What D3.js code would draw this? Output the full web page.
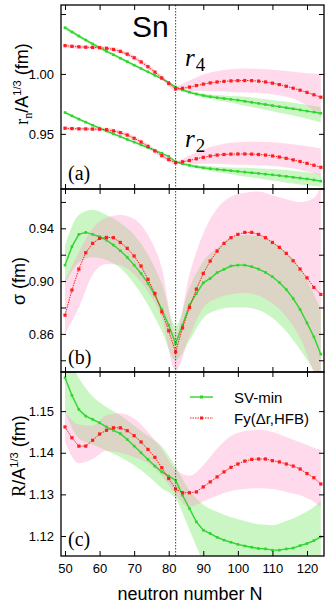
<!DOCTYPE html>
<html>
<head>
<meta charset="utf-8">
<script src="https://cdn.jsdelivr.net/npm/d3@7"></script>
<style>
body { margin: 0; background: #fff; }
text { font-family: "Liberation Sans", Arial, sans-serif; }
</style>
</head>
<body>
<div id="chart"></div>
<script>
// neutron numbers of the computed isotopes
var N = [50,52,54,56,58,60,62,64,66,68,70,72,74,76,78,80,82,84,86,88,90,92,94,96,98,100,102,104,106,108,110,112,114,116,118,120,122,124];
// grid on which the error bands were read
var bandN = [50,54,58,62,66,70,74,78,82,86,90,94,98,102,106,110,114,118,122,124];

// (a) radii r4, r2 over A^1/3
var r4SV = [1.0386,1.0350,1.0316,1.0282,1.0250,1.0219,1.0189,1.0160,1.0131,1.0102,1.0073,1.0045,1.0017,0.9988,0.9960,0.9930,0.9890,
  0.9866,0.9847,0.9832,0.9820,0.9810,0.9802,0.9795,0.9788,0.9781,0.9772,0.9763,0.9754,0.9745,0.9736,0.9727,0.9718,0.9709,0.9700,0.9690,0.9681,0.9672];
var r4Fy = [1.0236,1.0230,1.0226,1.0223,1.0221,1.0219,1.0214,1.0204,1.0188,1.0165,1.0135,1.0100,1.0060,1.0015,0.9967,0.9920,0.9875,
  0.9880,0.9890,0.9903,0.9915,0.9925,0.9933,0.9938,0.9942,0.9944,0.9945,0.9944,0.9940,0.9933,0.9923,0.9911,0.9897,0.9881,0.9864,0.9846,0.9826,0.9806];
var r2SV = [0.9678,0.9650,0.9623,0.9597,0.9572,0.9548,0.9524,0.9500,0.9477,0.9454,0.9431,0.9408,0.9385,0.9362,0.9338,0.9313,0.9267,
  0.9250,0.9237,0.9226,0.9217,0.9210,0.9204,0.9198,0.9192,0.9187,0.9181,0.9175,0.9170,0.9164,0.9158,0.9152,0.9145,0.9138,0.9131,0.9124,0.9115,0.9106];
var r2Fy = [0.9547,0.9544,0.9542,0.9541,0.9540,0.9539,0.9535,0.9525,0.9510,0.9490,0.9463,0.9432,0.9396,0.9357,0.9318,0.9285,0.9260,
  0.9267,0.9278,0.9292,0.9304,0.9315,0.9323,0.9328,0.9331,0.9332,0.9332,0.9331,0.9328,0.9323,0.9316,0.9307,0.9296,0.9283,0.9269,0.9254,0.9238,0.9221];

var r4SVlo = [1.0371,1.0301,1.0236,1.0176,1.0119,1.0062,1.0007,0.9951,0.9880,0.9835,0.9803,0.9780,0.9760,0.9734,0.9712,0.9689,0.9665,0.9640,0.9612,0.9597];
var r4SVhi = [1.0401,1.0331,1.0264,1.0202,1.0143,1.0084,1.0027,0.9969,0.9898,0.9859,0.9837,0.9824,0.9816,0.9810,0.9796,0.9783,0.9768,0.9752,0.9733,0.9725];
var r4Fylo = [1.0221,1.0211,1.0206,1.0198,1.0170,1.0115,1.0040,0.9947,0.9860,0.9855,0.9860,0.9855,0.9850,0.9845,0.9840,0.9830,0.9810,0.9770,0.9690,0.9640];
var r4Fyhi = [1.0251,1.0241,1.0236,1.0230,1.0206,1.0155,1.0080,0.9987,0.9900,0.9945,0.9995,1.0025,1.0040,1.0045,1.0042,1.0035,1.0025,1.0012,1.0002,1.0000];
var r2SVlo = [0.9665,0.9611,0.9561,0.9514,0.9467,0.9421,0.9376,0.9329,0.9258,0.9225,0.9200,0.9182,0.9164,0.9145,0.9128,0.9110,0.9092,0.9078,0.9064,0.9058];
var r2SVhi = [0.9691,0.9635,0.9583,0.9534,0.9487,0.9441,0.9394,0.9347,0.9276,0.9249,0.9234,0.9226,0.9220,0.9217,0.9212,0.9206,0.9198,0.9186,0.9172,0.9165];
var r2Fylo = [0.9532,0.9527,0.9525,0.9519,0.9492,0.9443,0.9376,0.9298,0.9245,0.9245,0.9250,0.9250,0.9245,0.9242,0.9238,0.9232,0.9220,0.9200,0.9170,0.9155];
var r2Fyhi = [0.9562,0.9557,0.9555,0.9551,0.9528,0.9483,0.9416,0.9338,0.9275,0.9320,0.9370,0.9405,0.9425,0.9435,0.9435,0.9430,0.9420,0.9405,0.9388,0.9380];

// (b) surface thickness sigma
var sigSV = [0.9121,0.9261,0.9354,0.9369,0.9354,0.9336,0.9311,0.9273,0.9230,0.9180,0.9121,0.9058,0.8982,0.8894,0.8785,0.8666,0.8527,
  0.8666,0.8818,0.8906,0.8987,0.9020,0.9064,0.9089,0.9114,0.9121,0.9121,0.9109,0.9091,0.9066,0.9033,0.8990,0.8936,0.8868,0.8785,0.8683,0.8577,0.8446];
var sigFy = [0.8742,0.8932,0.9091,0.9215,0.9286,0.9324,0.9331,0.9329,0.9293,0.9248,0.9190,0.9114,0.9013,0.8906,0.8767,0.8623,0.8463,
  0.8646,0.8800,0.8939,0.9058,0.9152,0.9228,0.9286,0.9329,0.9354,0.9369,0.9369,0.9354,0.9329,0.9293,0.9256,0.9210,0.9154,0.9091,0.9025,0.8952,0.8899];
var sigSVlo = [0.898,0.914,0.918,0.916,0.910,0.898,0.882,0.862,0.840,0.855,0.872,0.878,0.880,0.880,0.878,0.872,0.862,0.848,0.832,0.822];
var sigSVhi = [0.927,0.950,0.954,0.950,0.944,0.935,0.920,0.898,0.866,0.895,0.915,0.925,0.933,0.935,0.934,0.930,0.922,0.910,0.890,0.878];
var sigFylo = [0.860,0.880,0.905,0.913,0.912,0.905,0.892,0.872,0.832,0.858,0.880,0.887,0.890,0.891,0.889,0.883,0.873,0.857,0.830,0.815];
var sigFyhi = [0.900,0.922,0.940,0.948,0.950,0.947,0.935,0.910,0.860,0.905,0.936,0.955,0.964,0.967,0.968,0.965,0.962,0.960,0.963,0.972];

// (c) diffraction radius R over A^1/3
var RSV = [1.1580,1.1538,1.1504,1.1488,1.1480,1.1472,1.1462,1.1454,1.1446,1.1432,1.1416,1.1400,1.1384,1.1368,1.1354,1.1344,1.1334,
  1.1298,1.1266,1.1234,1.1214,1.1206,1.1197,1.1190,1.1185,1.1180,1.1176,1.1173,1.1170,1.1169,1.1166,1.1166,1.1169,1.1171,1.1177,1.1182,1.1189,1.1198];
var RFy = [1.1462,1.1436,1.1416,1.1416,1.1430,1.1445,1.1454,1.1460,1.1460,1.1453,1.1441,1.1426,1.1408,1.1389,1.1364,1.1338,1.1313,
  1.1304,1.1304,1.1306,1.1318,1.1330,1.1342,1.1354,1.1365,1.1373,1.1380,1.1384,1.1385,1.1385,1.1381,1.1378,1.1373,1.1368,1.1361,1.1350,1.1340,1.1325];
var RSVlo = [1.1500,1.1435,1.1420,1.1405,1.1390,1.1370,1.1345,1.1315,1.1290,1.1215,1.1140,1.1110,1.1100,1.1090,1.1090,1.1090,1.1090,1.1100,1.1110,1.1120];
var RSVhi = [1.1650,1.1580,1.1535,1.1510,1.1490,1.1465,1.1440,1.1415,1.1366,1.1310,1.1275,1.1258,1.1245,1.1236,1.1228,1.1226,1.1236,1.1250,1.1270,1.1285];
var RFylo = [1.1426,1.1375,1.1385,1.1405,1.1400,1.1390,1.1375,1.1345,1.1300,1.1270,1.1283,1.1297,1.1308,1.1313,1.1315,1.1313,1.1306,1.1298,1.1282,1.1270];
var RFyhi = [1.1498,1.1468,1.1465,1.1490,1.1495,1.1482,1.1450,1.1408,1.1360,1.1345,1.1370,1.1410,1.1440,1.1452,1.1455,1.1450,1.1438,1.1425,1.1412,1.1406];

// ticks
var xTicks = [50,60,70,80,90,100,110,120];
var yTicksA = [0.95,1.00,1.05], yLabelsA = [0.95,1.00];
var yTicksB = [0.84,0.86,0.88,0.90,0.92,0.94,0.96], yLabelsB = [0.86,0.90,0.94];
var yTicksC = [1.12,1.13,1.14,1.15], yLabelsC = [1.12,1.13,1.14,1.15];
var magicN = 82;

var green = "#2fd52f", red = "#ff1e1e";
var greenBand = "rgba(100,230,80,0.35)", pinkBand = "rgba(255,150,200,0.35)";

var plotLeft = 61, plotRight = 324;

var svg = d3.select("#chart").append("svg")
  .attr("width", 333)
  .attr("height", 605);

var x = d3.scaleLinear().domain([48.84, 124.92]).range([plotLeft, plotRight]);

function make_panel(id, top, bottom, domain){
  var y = d3.scaleLinear().domain(domain).range([bottom, top]);
  svg.append("clipPath").attr("id", "clip" + id)
    .append("rect")
    .attr("x", plotLeft).attr("y", top)
    .attr("width", plotRight - plotLeft).attr("height", bottom - top);
  var g = svg.append("g").attr("clip-path", "url(#clip" + id + ")");
  return {y: y, g: g, top: top, bottom: bottom};
}

function draw_band(p, lo, hi, color){
  var area = d3.area()
    .curve(d3.curveMonotoneX)
    .x(function(d, i) { return x(bandN[i]); })
    .y0(function(d, i) { return p.y(lo[i]); })
    .y1(function(d, i) { return p.y(hi[i]); });
  p.g.append("path").datum(lo).attr("d", area).attr("fill", color);
}

function draw_series(p, vals, color, dotted, size){
  var line = d3.line()
    .x(function(d, i) { return x(N[i]); })
    .y(function(d) { return p.y(d); });
  p.g.append("path").datum(vals)
    .attr("d", line)
    .attr("fill", "none")
    .attr("stroke", color)
    .attr("stroke-width", dotted ? 1 : 1.4)
    .attr("stroke-dasharray", dotted ? "1.5,1" : null);
  p.g.selectAll(null).data(vals).enter().append("rect")
    .attr("x", function(d, i) { return x(N[i]) - size / 2; })
    .attr("y", function(d) { return p.y(d) - size / 2; })
    .attr("width", size).attr("height", size)
    .attr("fill", color);
}

function draw_axes(p, ticks, labels, showX){
  var fmt = function(d){
    return labels.some(function(l){ return Math.abs(l - d) < 1e-9; }) ? d3.format(".2f")(d) : "";
  };
  var ly = svg.append("g")
    .attr("transform", "translate(" + plotLeft + ",0)")
    .call(d3.axisLeft(p.y).tickValues(ticks).tickSize(-5).tickSizeOuter(0).tickPadding(7).tickFormat(fmt));
  var ry = svg.append("g")
    .attr("transform", "translate(" + plotRight + ",0)")
    .call(d3.axisRight(p.y).tickValues(ticks).tickSize(-5).tickSizeOuter(0).tickFormat(""));
  var tx = svg.append("g")
    .attr("transform", "translate(0," + p.top + ")")
    .call(d3.axisTop(x).tickValues(xTicks).tickSize(-5).tickSizeOuter(0).tickFormat(""));
  var bx = svg.append("g")
    .attr("transform", "translate(0," + p.bottom + ")")
    .call(d3.axisBottom(x).tickValues(xTicks).tickSize(-5).tickSizeOuter(0).tickPadding(8)
      .tickFormat(showX ? d3.format("d") : ""));
  [ly, ry, tx, bx].forEach(function(a){
    a.select(".domain").remove();
    a.selectAll("line").attr("stroke", "#000").attr("stroke-width", 1);
    a.selectAll("text").style("font-family", "Liberation Sans, Arial, sans-serif")
      .style("font-size", "13px").attr("fill", "#000");
  });
  svg.append("rect")
    .attr("x", plotLeft).attr("y", p.top)
    .attr("width", plotRight - plotLeft).attr("height", p.bottom - p.top)
    .attr("fill", "none").attr("stroke", "#000").attr("stroke-width", 1.3);
}

// panel (a)
var pa = make_panel("a", 5, 189, [0.904, 1.0575]);
draw_band(pa, r4SVlo, r4SVhi, greenBand);
draw_band(pa, r2SVlo, r2SVhi, greenBand);
draw_band(pa, r4Fylo, r4Fyhi, pinkBand);
draw_band(pa, r2Fylo, r2Fyhi, pinkBand);
draw_series(pa, r4SV, green, false, 2.6);
draw_series(pa, r2SV, green, false, 2.6);
draw_series(pa, r4Fy, red, true, 3.2);
draw_series(pa, r2Fy, red, true, 3.2);

// panel (b)
var pb = make_panel("b", 189, 372, [0.8311, 0.9698]);
draw_band(pb, sigSVlo, sigSVhi, greenBand);
draw_band(pb, sigFylo, sigFyhi, pinkBand);
draw_series(pb, sigSV, green, false, 2.6);
draw_series(pb, sigFy, red, true, 3.2);

// panel (c)
var pc = make_panel("c", 372, 556, [1.1152, 1.1594]);
draw_band(pc, RSVlo, RSVhi, greenBand);
draw_band(pc, RFylo, RFyhi, pinkBand);
draw_series(pc, RSV, green, false, 2.6);
draw_series(pc, RFy, red, true, 3.2);

// magic number line
svg.append("line")
  .attr("x1", x(magicN)).attr("x2", x(magicN))
  .attr("y1", 5).attr("y2", 556)
  .attr("stroke", "#444").attr("stroke-width", 1)
  .attr("stroke-dasharray", "1.5,1.5");

draw_axes(pa, yTicksA, yLabelsA, false);
draw_axes(pb, yTicksB, yLabelsB, false);
draw_axes(pc, yTicksC, yLabelsC, true);

// labels inside panels
svg.append("text").attr("x", 132).attr("y", 37)
  .style("font-size", "30px").text("Sn");

function radius_label(xp, yp, sub){
  var t = svg.append("text").attr("x", xp).attr("y", yp)
    .style("font-family", "Liberation Serif, Times New Roman, serif");
  t.append("tspan").style("font-style", "italic").style("font-size", "25px").text("r");
  t.append("tspan").attr("dy", 5).attr("dx", 1).style("font-size", "19px").text(sub);
}
radius_label(185, 66, "4");
radius_label(185, 147, "2");

[["(a)", 180], ["(b)", 364], ["(c)", 546]].forEach(function(d){
  svg.append("text").attr("x", 68).attr("y", d[1])
    .style("font-family", "Liberation Serif, Times New Roman, serif")
    .style("font-size", "20px").text(d[0]);
});

// y axis titles
var ta = svg.append("text")
  .attr("transform", "translate(28,84) rotate(-90)")
  .attr("text-anchor", "middle").style("font-size", "18px");
ta.append("tspan").style("font-family", "Liberation Serif, Times New Roman, serif").text("r");
ta.append("tspan").attr("dy", 4).style("font-family", "Liberation Serif, Times New Roman, serif").style("font-size", "12px").text("n");
ta.append("tspan").attr("dy", -4).text("/A");
ta.append("tspan").attr("dy", -7).style("font-size", "11px").text("1/3");
ta.append("tspan").attr("dy", 7).text(" (fm)");

svg.append("text")
  .attr("transform", "translate(25,281) rotate(-90)")
  .attr("text-anchor", "middle").style("font-size", "18px")
  .text("\u03c3 (fm)");

var tc = svg.append("text")
  .attr("transform", "translate(25,456) rotate(-90)")
  .attr("text-anchor", "middle").style("font-size", "18px");
tc.append("tspan").style("font-family", "Liberation Serif, Times New Roman, serif").text("R");
tc.append("tspan").text("/A");
tc.append("tspan").attr("dy", -7).style("font-size", "11px").text("1/3");
tc.append("tspan").attr("dy", 7).text(" (fm)");

// x axis title
svg.append("text").attr("x", 190).attr("y", 600)
  .attr("text-anchor", "middle").style("font-size", "18px")
  .text("neutron number N");

// legend
var legend = [{name: "SV-min", color: green, dotted: false, y: 397},
              {name: "Fy(\u0394r,HFB)", color: red, dotted: true, y: 418}];
legend.forEach(function(d){
  svg.append("line").attr("x1", 190).attr("x2", 213).attr("y1", d.y).attr("y2", d.y)
    .attr("stroke", d.color).attr("stroke-width", d.dotted ? 1 : 1.4)
    .attr("stroke-dasharray", d.dotted ? "1.5,1" : null);
  svg.append("rect").attr("x", 200).attr("y", d.y - 1.5).attr("width", 3).attr("height", 3)
    .attr("fill", d.color);
  svg.append("text").attr("x", 234).attr("y", d.y + 5.5)
    .style("font-size", "15px").text(d.name);
});
</script>
</body>
</html>
